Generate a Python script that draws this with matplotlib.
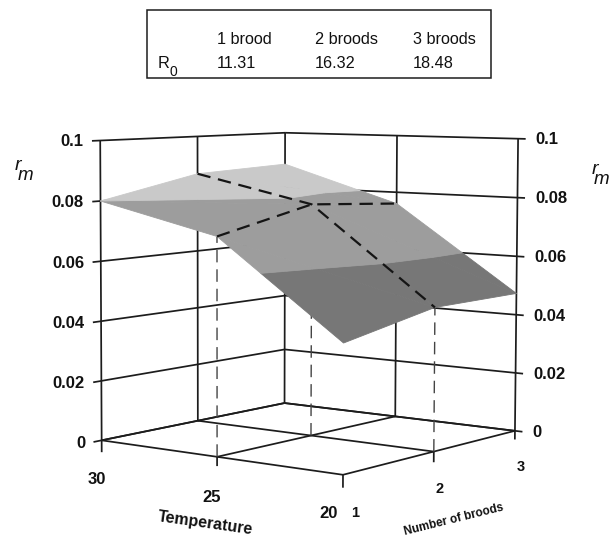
import numpy as np
import matplotlib
matplotlib.use("Agg")
import matplotlib.pyplot as plt
from matplotlib.text import Text
from mpl_toolkits.mplot3d import proj3d
from mpl_toolkits.mplot3d.art3d import Poly3DCollection

plt.rcParams["font.family"] = ["Liberation Sans", "DejaVu Sans"]

temperature = [30, 25, 20]
broods = [1, 2, 3]
rm_values = [[0.0800, 0.0870, 0.0885],
             [0.0707, 0.0783, 0.0760],
             [0.0406, 0.0470, 0.0473]]
rm_ticks = [0, 0.02, 0.04, 0.06, 0.08, 0.1]
rm_tick_labels = ["0", "0.02", "0.04", "0.06", "0.08", "0.1"]
brood_columns = ["1 brood", "2 broods", "3 broods"]
r0_values = ["11.31", "16.32", "18.48"]

W, H = 611, 539
INK = "#1c1c1c"


def camera():
    """Pinhole camera calibrated on the printed box; returns a 4x4 matrix."""
    world = np.array([(30, 1, 0), (25, 1, 0), (20, 1, 0), (30, 2, 0), (25, 2, 0),
                      (20, 2, 0), (30, 3, 0), (25, 3, 0), (20, 3, 0), (30, 1, .1),
                      (30, 2, .1), (30, 3, .1), (25, 3, .1), (20, 3, .1)], float)
    image = np.array([(101, 441), (217, 457), (343, 474), (198, 420), (312, 436),
                      (433, 452), (285, 403), (395, 416), (515, 431), (101, 140),
                      (197, 137), (285, 133), (396, 135), (519, 139)], float)
    image = np.c_[2 * image[:, 0] / W - 1, 1 - 2 * image[:, 1] / H]
    scale = np.diag([0.1, 1.0, 10.0, 1.0])
    rows, rhs = [], []
    for (t, b, z), (u, v) in zip(world, image):
        p = np.array([t * 0.1, b, z * 10.0, 1.0])
        rows.append(np.r_[p, np.zeros(4), -u * p[:3]])
        rhs.append(u)
        rows.append(np.r_[np.zeros(4), p, -v * p[:3]])
        rhs.append(v)
    sol = np.linalg.lstsq(np.array(rows), np.array(rhs), rcond=None)[0]
    P = np.vstack([sol[:4], sol[4:8], np.r_[sol[8:], 1.0]])
    P = P @ scale
    return np.vstack([P[0], P[1], [0.001, 0.002, 0.3, -1.0], P[2]])


def clip(poly, level, keep_above):
    out = []
    for i in range(len(poly)):
        a, b = np.array(poly[i]), np.array(poly[(i + 1) % len(poly)])
        ina = a[2] >= level if keep_above else a[2] <= level
        inb = b[2] >= level if keep_above else b[2] <= level
        if ina:
            out.append(a)
        if ina != inb:
            out.append(a + (level - a[2]) / (b[2] - a[2]) * (b - a))
    return out


fig = plt.figure(figsize=(W / 100, H / 100), dpi=100, facecolor="white")
ax = fig.add_axes([0, 0, 1, 1], projection="3d", computed_zorder=False)
ax.set_proj_type("ortho")
ax.set_xticks([])
ax.set_yticks([])
ax.set_zticks([])
ax.apply_aspect = lambda position=None: None
M = camera()
ax.get_proj = lambda: M
ax.viewLim.intervalx = (-1, 1)
ax.viewLim.intervaly = (-1, 1)
ax.set_axis_off()
for unused in ax.findobj(Text):
    unused.set_visible(False)

line = dict(color=INK, lw=1.25, solid_capstyle="butt", zorder=1)
t_front, t_back = temperature[-1], temperature[0]
b_front, b_back = broods[0], broods[-1]
zmax = rm_ticks[-1]

# walls: horizontal rules
for z in rm_ticks:
    ax.plot([t_back, t_back], [b_front - 0.08, b_back], [z, z], **line)
    ax.plot([t_back, t_front - 0.3], [b_back, b_back], [z, z], **line)
# walls: uprights
ax.plot([t_back] * 2, [b_front] * 2, [-0.004, zmax], **line)
for b in broods[1:]:
    ax.plot([t_back] * 2, [b] * 2, [0, zmax], **line)
for t in temperature[1:]:
    ax.plot([t] * 2, [b_back] * 2, [-0.003 if t == t_front else 0, zmax], **line)
# floor grid
for t in temperature:
    ax.plot([t, t], [b_front, b_back], [0, 0], **line)
for b in broods:
    ax.plot([t_back, t_front], [b, b], [0, 0], **line)
# ticks under the floor front edges
ax.plot([temperature[1]] * 2, [b_front] * 2, [-0.003, 0], **line)
ax.plot([t_front] * 2, [b_front] * 2, [-0.004, 0], **line)
ax.plot([t_front] * 2, [broods[1]] * 2, [-0.0035, 0], **line)

# dashed drop lines
rm = np.array(rm_values)
for i, j in [(1, 0), (1, 1), (2, 1)]:
    ax.plot([temperature[i]] * 2, [broods[j]] * 2, [0, rm[i, j]], color="#444444",
            lw=1.0, dashes=(9, 5), zorder=1.5)

# surface, split into grey height bands
bands = [(0.0, 0.06, "#777777"), (0.06, 0.08, "#9d9d9d"), (0.08, 0.1, "#c9c9c9")]
for lo, hi, colour in bands:
    polys = []
    for i in range(2):
        for j in range(2):
            p = lambda a, c: (temperature[a], broods[c], rm[a, c])
            for tri in ([p(i, j), p(i + 1, j), p(i + 1, j + 1)],
                        [p(i, j), p(i + 1, j + 1), p(i, j + 1)]):
                shape = clip(tri, lo, True)
                if shape:
                    shape = clip(shape, hi, False)
                if len(shape) >= 3:
                    polys.append(shape)
    ax.add_collection3d(Poly3DCollection(polys, facecolors=colour, edgecolors=colour,
                                         linewidths=0.6, zorder=2))

# dashed lines on the surface
on_surface = dict(color="#151515", lw=1.6, dashes=(6, 3.5), zorder=3)
ax.plot(temperature, [broods[1]] * 3, rm[:, 1], **on_surface)
ax.plot([temperature[1]] * 3, broods, rm[1, :], **on_surface)

# value tick labels, placed at their projected 3D positions
bold = dict(fontweight="bold", fontsize=12, color="#111111", va="center",
            transform=ax.transData)
for z, s in zip(rm_ticks, rm_tick_labels):
    xl, yl, _ = proj3d.proj_transform(t_back, b_front - 0.16, z, M)
    ax.text2D(xl, yl, s, ha="right", **bold)
    xr, yr, _ = proj3d.proj_transform(t_front - 0.7, b_back, z, M)
    ax.text2D(xr, yr, s, ha="left", **bold)


def pix(x, y, s, **kw):
    fig.text(x / W, 1 - y / H, s, ha=kw.pop("ha", "center"), va=kw.pop("va", "center"),
             color="#111111", **kw)


for x, y, s in zip((97, 212, 329), (480, 498, 513), temperature):
    pix(x, y, str(s), fontweight="bold", fontsize=12)
for x, y, s in zip((355, 440, 521), (513, 489, 467), broods):
    pix(x, y, str(s), fontweight="bold", fontsize=10.5)
pix(205, 523, "Temperature", fontweight="bold", fontsize=11.5, rotation=-8,
    rotation_mode="anchor")
pix(454, 520, "Number of broods", fontweight="bold", fontsize=8.5, rotation=14,
    rotation_mode="anchor")
for xr, yr, xm, ym in ((15, 165, 18, 176), (592, 170, 594, 179)):
    pix(xr, yr, "r", ha="left", fontsize=14, fontstyle="italic")
    pix(xm, ym, "m", ha="left", fontsize=13.5, fontstyle="italic")

# R0 box
fig.add_artist(plt.Rectangle((147 / W, 1 - 78 / H), 344 / W, 68 / H, fill=False,
                             ec=INK, lw=1.1, transform=fig.transFigure))
for x, head, val in zip((217, 315, 413), brood_columns, r0_values):
    pix(x, 40, head, ha="left", fontsize=11.7)
    pix(x, 63, val, ha="left", fontsize=11.7)
pix(158, 63, "R", ha="left", fontsize=11.7)
pix(170, 72, "0", ha="left", fontsize=10)

fig.savefig("out.png", dpi=100, facecolor="white")
